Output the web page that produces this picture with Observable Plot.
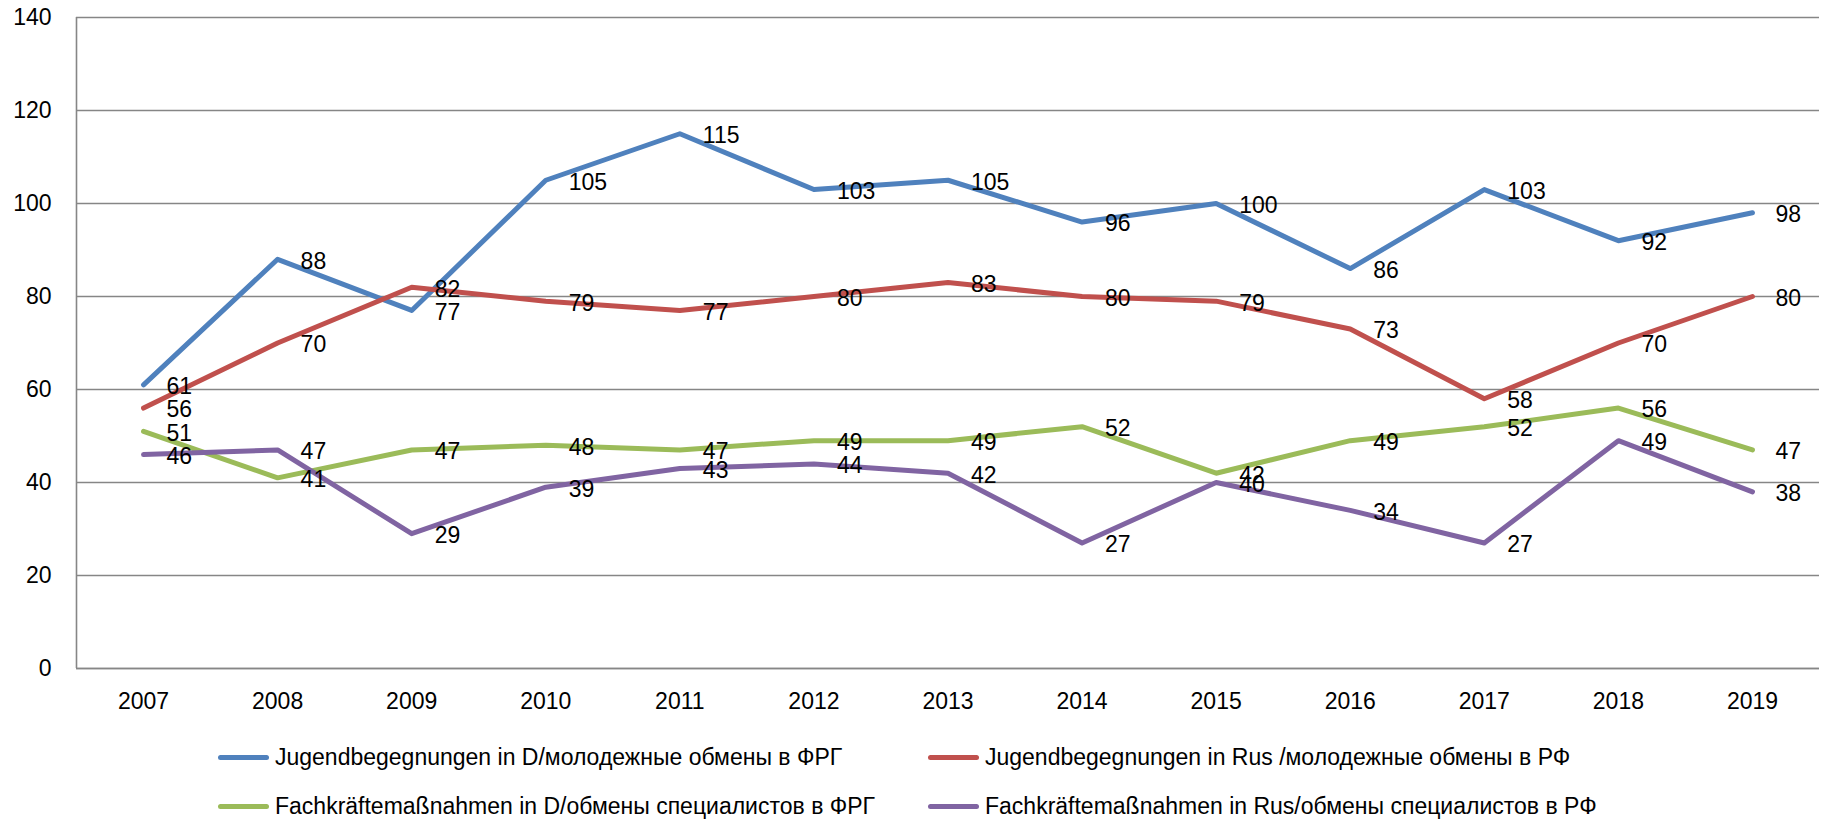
<!DOCTYPE html>
<html>
<head>
<meta charset="utf-8">
<script src="https://cdn.jsdelivr.net/npm/d3@7"></script>
<script src="https://cdn.jsdelivr.net/npm/@observablehq/plot@0.6"></script>
<style>
  html, body { margin: 0; padding: 0; background: #fff; }
  body { width: 1827px; height: 820px; position: relative; overflow: hidden; font-family: "Liberation Sans", Arial, sans-serif; }
  #legend { position: absolute; left: 218px; top: 733px; display: grid; grid-template-columns: 710px 700px; grid-auto-rows: 49px; }
  .item { display: flex; align-items: center; font-size: 23px; color: #000; white-space: nowrap; }
  .sw { width: 51px; height: 5px; border-radius: 3px; margin-right: 6px; flex: none; }
</style>
</head>
<body>
<div id="chart"></div>
<div id="legend"></div>
<script>
const years = [2007, 2008, 2009, 2010, 2011, 2012, 2013, 2014, 2015, 2016, 2017, 2018, 2019];
const jugendD   = [61, 88, 77, 105, 115, 103, 105, 96, 100, 86, 103, 92, 98];
const jugendRus = [56, 70, 82, 79, 77, 80, 83, 80, 79, 73, 58, 70, 80];
const fachD     = [51, 41, 47, 48, 47, 49, 49, 52, 42, 49, 52, 56, 47];
const fachRus   = [46, 47, 29, 39, 43, 44, 42, 27, 40, 34, 27, 49, 38];
const seriesNames = [
  "Jugendbegegnungen in D/молодежные обмены в ФРГ",
  "Jugendbegegnungen in Rus /молодежные обмены в РФ",
  "Fachkräftemaßnahmen in D/обмены специалистов в ФРГ",
  "Fachkräftemaßnahmen in Rus/обмены специалистов в РФ"
];
const seriesColors = ["#4F81BD", "#C0504D", "#9BBB59", "#8064A2"];
const yTicks = [0, 20, 40, 60, 80, 100, 120, 140];

const seriesValues = [jugendD, jugendRus, fachD, fachRus];
const data = seriesValues.flatMap((vals, i) =>
  vals.map((v, j) => ({series: seriesNames[i], year: years[j], value: v}))
);
const xDomain = [years[0] - 0.5, years[years.length - 1] + 0.5];

const plot = Plot.plot({
  width: 1827,
  height: 720,
  marginLeft: 76,
  marginRight: 8,
  marginTop: 17,
  marginBottom: 52,
  style: {fontFamily: "Liberation Sans, Arial, sans-serif", fontSize: "23px", color: "#000", background: "#fff"},
  x: {type: "linear", domain: xDomain, label: null},
  y: {domain: [0, 140], label: null},
  color: {domain: seriesNames, range: seriesColors},
  marks: [
    Plot.gridY(yTicks, {stroke: "#868686", strokeOpacity: 1, strokeWidth: 1.6}),
    Plot.ruleX([xDomain[0]], {stroke: "#868686", strokeWidth: 1.6}),
    Plot.ruleY([0], {stroke: "#868686", strokeWidth: 1.6}),
    Plot.axisY(yTicks, {tickSize: 0, tickPadding: 25, label: null, fontSize: 23}),
    Plot.axisX(years, {tickSize: 0, tickPadding: 24, tickFormat: d => String(d), label: null, fontSize: 23}),
    Plot.line(data, {x: "year", y: "value", z: "series", stroke: "series", strokeWidth: 5, strokeLinecap: "round", strokeLinejoin: "round"}),
    Plot.text(data, {x: "year", y: "value", text: d => String(d.value), textAnchor: "start", dx: 23, dy: 2, fill: "#000", fontSize: 23})
  ]
});
document.getElementById("chart").appendChild(plot);

const legend = document.getElementById("legend");
seriesNames.forEach((name, i) => {
  const item = document.createElement("div");
  item.className = "item";
  const sw = document.createElement("span");
  sw.className = "sw";
  sw.style.background = seriesColors[i];
  item.appendChild(sw);
  item.appendChild(document.createTextNode(name));
  legend.appendChild(item);
});
</script>
</body>
</html>
